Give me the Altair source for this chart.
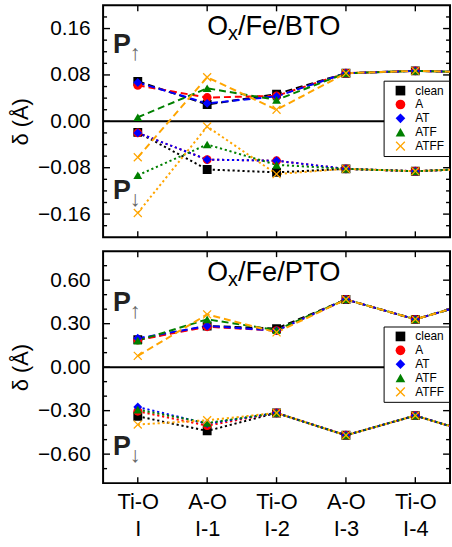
import altair as alt
import pandas as pd

# ---------------- data ----------------
series = ["clean", "A", "AT", "ATF", "ATFF"]
colors = ["#000000", "#ff0000", "#0000ff", "#008000", "#ffa500"]
X_SHAPE = "M-1,-0.8L-0.8,-1L0,-0.2L0.8,-1L1,-0.8L0.2,0L1,0.8L0.8,1L0,0.2L-0.8,1L-1,0.8L-0.2,0Z"
shapes = ["square", "circle", "diamond", "triangle-up", X_SHAPE]

positions = [0, 1, 2, 3, 4, 5]
x_line1 = ["Ti-O", "A-O", "Ti-O", "A-O", "Ti-O"]
x_line2 = ["I", "I-1", "I-2", "I-3", "I-4"]

# O_x/Fe/BTO, P up (dashed)
bto_up_clean = [0.069, 0.029, 0.047, 0.083, 0.087, 0.084]
bto_up_A     = [0.062, 0.041, 0.044, 0.083, 0.087, 0.084]
bto_up_AT    = [0.067, 0.031, 0.043, 0.083, 0.087, 0.084]
bto_up_ATF   = [0.007, 0.057, 0.037, 0.083, 0.087, 0.084]
bto_up_ATFF  = [-0.062, 0.076, 0.020, 0.083, 0.087, 0.084]
# O_x/Fe/BTO, P down (dotted)
bto_dn_clean = [-0.019, -0.083, -0.088, -0.082, -0.086, -0.081]
bto_dn_A     = [-0.020, -0.066, -0.068, -0.082, -0.086, -0.081]
bto_dn_AT    = [-0.020, -0.066, -0.068, -0.082, -0.086, -0.081]
bto_dn_ATF   = [-0.093, -0.040, -0.075, -0.082, -0.086, -0.081]
bto_dn_ATFF  = [-0.158, -0.009, -0.091, -0.082, -0.086, -0.081]

# O_x/Fe/PTO, P up (dashed)
pto_up_clean = [0.190, 0.284, 0.266, 0.467, 0.330, 0.470]
pto_up_A     = [0.187, 0.279, 0.252, 0.467, 0.330, 0.470]
pto_up_AT    = [0.199, 0.284, 0.252, 0.467, 0.330, 0.470]
pto_up_ATF   = [0.183, 0.330, 0.256, 0.467, 0.330, 0.470]
pto_up_ATFF  = [0.078, 0.364, 0.240, 0.467, 0.330, 0.470]
# O_x/Fe/PTO, P down (dotted)
pto_dn_clean = [-0.339, -0.440, -0.316, -0.470, -0.334, -0.480]
pto_dn_A     = [-0.304, -0.403, -0.316, -0.470, -0.334, -0.480]
pto_dn_AT    = [-0.275, -0.390, -0.316, -0.470, -0.334, -0.480]
pto_dn_ATF   = [-0.293, -0.385, -0.316, -0.470, -0.334, -0.480]
pto_dn_ATFF  = [-0.396, -0.366, -0.316, -0.470, -0.334, -0.480]

bto_major = [-0.16, -0.08, 0.0, 0.08, 0.16]
bto_minor = [-0.18, -0.14, -0.12, -0.10, -0.06, -0.04, -0.02,
             0.02, 0.04, 0.06, 0.10, 0.12, 0.14, 0.18]
pto_major = [-0.6, -0.3, 0.0, 0.3, 0.6]
pto_minor = [-0.7, -0.5, -0.4, -0.2, -0.1, 0.1, 0.2, 0.4, 0.5, 0.7]
x_tick_pos = [0, 1, 2, 3, 4]

FONT = "Liberation Sans"
W, H = 350, 234
Y_TITLE = "δ (Å)"


def long_table(up, dn):
    rows = []
    for s, u, d in zip(series, up, dn):
        for p, v in zip(positions, u):
            rows.append({"series": s, "pol": "up", "key": s + "-up", "pos": p, "val": v})
        for p, v in zip(positions, d):
            rows.append({"series": s, "pol": "down", "key": s + "-down", "pos": p, "val": v})
    return pd.DataFrame(rows)


label_expr = "[" + ",".join(
    "['%s','%s']" % (a, b) for a, b in zip(x_line1, x_line2)) + "][datum.value]"


def panel(df, ydom, major, minor, name, show_x, p_up_y, p_dn_y):
    xsc = alt.Scale(domain=[-0.5, 4.5], nice=False, zero=False)
    ysc = alt.Scale(domain=ydom, nice=False, zero=False)
    csc = alt.Scale(domain=series, range=colors)
    ssc = alt.Scale(domain=series, range=shapes)
    dsc = alt.Scale(domain=["up", "down"], range=[[7, 4], [2.2, 2.8]])

    yaxis = alt.Axis(values=major, format=".2f", ticks=False, domain=False,
                     grid=False, labelFont=FONT, labelFontSize=21,
                     labelColor="black", labelPadding=13,
                     titleFont=FONT, titleFontSize=22, titleFontWeight="normal",
                     titleColor="black", titlePadding=5)
    if show_x:
        xaxis = alt.Axis(values=x_tick_pos, labelExpr=label_expr, ticks=False,
                         domain=False, grid=False, labelFont=FONT, labelFontSize=22,
                         labelColor="black", labelPadding=9, labelLineHeight=27,
                         labelBaseline="top", title=None)
    else:
        xaxis = None

    def Y(field):
        return alt.Y(field, scale=ysc, axis=yaxis, title=Y_TITLE)

    def X(field):
        return alt.X(field, scale=xsc, axis=xaxis, title=None)

    zero = alt.Chart(pd.DataFrame({"val": [0.0]})).mark_rule(
        color="black", strokeWidth=2).encode(y=Y("val:Q"))

    def yticks(vals, x0, x1):
        return alt.Chart(pd.DataFrame({"val": vals})).mark_rule(
            color="black", strokeWidth=1.4).encode(
            y=Y("val:Q"), x=alt.value(x0), x2=alt.value(x1))

    def xticks(y0, y1):
        return alt.Chart(pd.DataFrame({"pos": x_tick_pos})).mark_rule(
            color="black", strokeWidth=1.4).encode(
            x=X("pos:Q"), y=alt.value(y0), y2=alt.value(y1))

    ticks = [yticks(minor, 0, 4), yticks(major, 0, 7),
             yticks(minor, W - 4, W), yticks(major, W - 7, W),
             xticks(0, 6), xticks(H - 6, H)]

    lines = alt.Chart(df).mark_line(strokeWidth=2, clip=True).encode(
        x=X("pos:Q"),
        y=Y("val:Q"),
        stroke=alt.Stroke("series:N", scale=csc, legend=None),
        strokeDash=alt.StrokeDash("pol:N", scale=dsc, legend=None),
        detail="key:N",
        order="pos:Q",
    )

    legend = alt.Legend(orient="none", legendX=283, legendY=76, title=None,
                        strokeColor="black", fillColor="white", padding=4,
                        symbolOffset=7, labelOffset=9, labelFont=FONT,
                        labelFontSize=12, labelColor="black", symbolSize=95,
                        rowPadding=2, symbolStrokeWidth=0)

    points = alt.Chart(df[df["pos"] <= 4]).mark_point(
        filled=True, size=80, opacity=1, clip=True).encode(
        x=X("pos:Q"),
        y=Y("val:Q"),
        color=alt.Color("series:N", scale=csc, legend=legend),
        shape=alt.Shape("series:N", scale=ssc, legend=legend),
    )

    one = pd.DataFrame({"a": [0]})

    def txt(t, x, y, size, weight="normal", color="black"):
        return alt.Chart(one).mark_text(
            text=t, align="left", baseline="alphabetic", font=FONT,
            fontSize=size, fontWeight=weight, color=color).encode(
            x=alt.value(x), y=alt.value(y))

    texts = [
        txt("O", 105, 30, 27),
        txt("x", 126, 35, 20),
        txt("/Fe/" + name, 136, 30, 27.5),
        txt("P", 10, p_up_y, 27, "bold", "#222222"),
        txt("↑", 27, p_up_y + 7, 22, "normal", "#666666"),
        txt("P", 10, p_dn_y, 27, "bold", "#222222"),
        txt("↓", 27, p_dn_y + 7, 22, "normal", "#666666"),
    ]

    return alt.layer(zero, *ticks, lines, points, *texts).properties(width=W, height=H)


top = panel(long_table(
    [bto_up_clean, bto_up_A, bto_up_AT, bto_up_ATF, bto_up_ATFF],
    [bto_dn_clean, bto_dn_A, bto_dn_AT, bto_dn_ATF, bto_dn_ATFF]),
    [-0.2, 0.2], bto_major, bto_minor, "BTO", False, 48, 195)

bottom = panel(long_table(
    [pto_up_clean, pto_up_A, pto_up_AT, pto_up_ATF, pto_up_ATFF],
    [pto_dn_clean, pto_dn_A, pto_dn_AT, pto_dn_ATF, pto_dn_ATFF]),
    [-0.8, 0.8], pto_major, pto_minor, "PTO", True, 60, 206)

chart = alt.vconcat(top, bottom, spacing=10).resolve_legend(
    color="independent", shape="independent").properties(
    padding={"left": 8, "top": 1, "right": 0, "bottom": 0},
    background="white",
).configure_view(stroke="black", strokeWidth=2)

chart.save("out.html", embed_options={"renderer": "svg", "actions": False})
